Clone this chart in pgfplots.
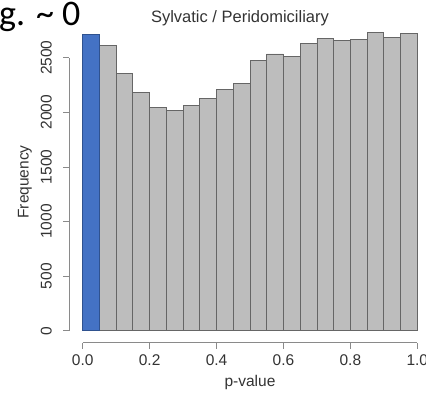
\documentclass[border=0pt]{standalone}
\usepackage{pgfplots}
\pgfplotsset{compat=1.18}
\usepackage{fontspec}
\setmainfont{Liberation Sans}
\newfontfamily\calib{Carlito}
\definecolor{barfill}{HTML}{BDBDBD}
\definecolor{bardraw}{HTML}{666666}
\definecolor{bluefill}{HTML}{4472C4}
\definecolor{bluedraw}{HTML}{2F528F}
\definecolor{txt}{HTML}{333333}
\definecolor{axc}{HTML}{8A8A8A}
\begin{document}
\begin{tikzpicture}
\path[use as bounding box] (0,0) rectangle (426bp,-393bp);
\begin{axis}[
  at={(69.3bp,-342.6bp)}, anchor=south west,
  scale only axis, width=361.4bp, height=321.8bp,
  xmin=-0.04, xmax=1.04, ymin=-109, ymax=2838,
  axis line style={draw=none},
  axis x line*=bottom, axis y line*=left,
  tick align=outside, major tick length=6bp,
  tick style={axc, line width=0.6pt},
  xtick={0,0.2,0.4,0.6,0.8,1.0},
  ytick={0,500,1000,1500,2000,2500},
  /pgf/number format/assume math mode=true,
  xticklabel shift=3bp, yticklabel shift=8bp,
  xticklabel style={/pgf/number format/fixed, /pgf/number format/fixed zerofill, /pgf/number format/precision=1, font=\fontsize{15.5bp}{15.5bp}\selectfont, text=txt},
  yticklabel style={/pgf/number format/set thousands separator={}, rotate=90, anchor=south, font=\fontsize{15.5bp}{15.5bp}\selectfont, text=txt},
  clip=false,
]
\addplot[ybar interval, fill=barfill, draw=bardraw, line width=0.8pt] coordinates {
(0.05,2610) (0.10,2357) (0.15,2180) (0.20,2042) (0.25,2021) (0.30,2064) (0.35,2125)
(0.40,2207) (0.45,2268) (0.50,2473) (0.55,2534) (0.60,2509) (0.65,2632) (0.70,2678)
(0.75,2662) (0.80,2668) (0.85,2729) (0.90,2683) (0.95,2720) (1.00,2720)
};
\addplot[ybar interval, fill=bluefill, draw=bluedraw, line width=0.8pt] coordinates {
(0,2717) (0.05,2717)
};
\draw[axc, line width=0.6pt] (axis cs:-0.04,0) -- (axis cs:-0.04,2500);
\draw[axc, line width=0.6pt] (axis cs:0,-109) -- (axis cs:1,-109);
\end{axis}
\node[text=txt, font=\fontsize{16.5bp}{16.5bp}\selectfont] at (240bp,-18bp) {Sylvatic / Peridomiciliary};
\node[text=txt, font=\fontsize{15.5bp}{15.5bp}\selectfont, rotate=90] at (25bp,-182bp) {Frequency};
\node[text=txt, font=\fontsize{15.5bp}{15.5bp}\selectfont] at (250bp,-382bp) {p-value};
\node[anchor=base west, inner sep=0pt, font=\calib\fontsize{36bp}{36bp}\selectfont] at (-1bp,-25bp) {g. \char"007E\ 0};
\end{tikzpicture}
\end{document}
